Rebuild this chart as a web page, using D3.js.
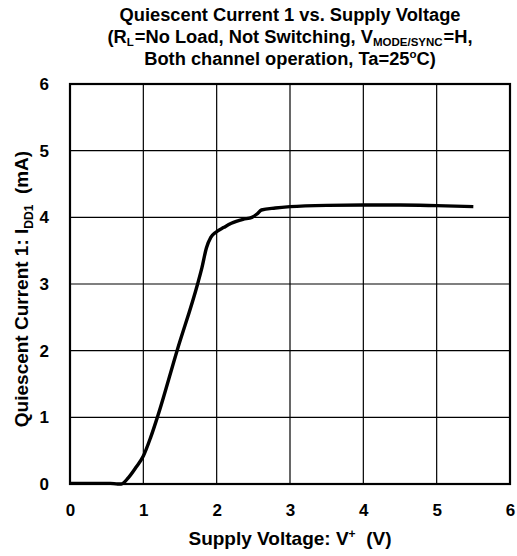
<!DOCTYPE html>
<html><head><meta charset="utf-8">
<script src="https://cdn.jsdelivr.net/npm/d3@7"></script>
<style>body{margin:0;background:#fff}svg{display:block}text{font-family:"Liberation Sans",Arial,sans-serif;font-weight:bold;fill:#000}</style>
</head><body><svg id="c" width="517" height="556"></svg>
<script>
const voltage = [0, 0.3, 0.55, 0.65, 0.7, 0.8, 0.9, 1.0, 1.1, 1.2, 1.46, 1.74, 1.8, 1.86, 1.92, 1.98, 2.1, 2.2, 2.36, 2.48, 2.55, 2.61, 2.8, 3.0, 3.5, 4.0, 4.5, 5.0, 5.5];
const current = [0.01, 0.01, 0.01, 0.0, 0.0, 0.1, 0.25, 0.42, 0.7, 1.03, 2.0, 3.0, 3.25, 3.54, 3.7, 3.77, 3.85, 3.91, 3.97, 4.0, 4.05, 4.11, 4.14, 4.16, 4.18, 4.185, 4.185, 4.175, 4.16];
const xTicks = [0, 1, 2, 3, 4, 5, 6];
const yTicks = [0, 1, 2, 3, 4, 5, 6];

const svg = d3.select("#c");
const L = 70, R = 510, T = 84, B = 484;
const x = d3.scaleLinear().domain([0, 6]).range([L, R]);
const y = d3.scaleLinear().domain([0, 6]).range([B, T]);

// grid
svg.append("g").selectAll("line").data(xTicks.slice(1, -1)).join("line")
  .attr("x1", d => x(d)).attr("x2", d => x(d)).attr("y1", T).attr("y2", B)
  .attr("stroke", "#000").attr("stroke-width", 1.2);
svg.append("g").selectAll("line").data(yTicks.slice(1, -1)).join("line")
  .attr("y1", d => y(d)).attr("y2", d => y(d)).attr("x1", L).attr("x2", R)
  .attr("stroke", "#000").attr("stroke-width", 1.2);

// frame
svg.append("rect").attr("x", L).attr("y", T).attr("width", R - L).attr("height", B - T)
  .attr("fill", "none").attr("stroke", "#000").attr("stroke-width", 2.2);

// tick labels via d3 axes
const xa = svg.append("g").attr("transform", `translate(0,${B})`)
  .call(d3.axisBottom(x).tickValues(xTicks).tickFormat(d3.format("d")).tickSize(0).tickPadding(20));
xa.select(".domain").remove();
xa.selectAll("text").attr("font-size", 17).attr("font-family", null).style("font-weight", "bold");
const ya = svg.append("g").attr("transform", `translate(${L},0)`)
  .call(d3.axisLeft(y).tickValues(yTicks).tickFormat(d3.format("d")).tickSize(0).tickPadding(21));
ya.select(".domain").remove();
ya.selectAll("text").attr("font-size", 17).attr("font-family", null).style("font-weight", "bold");

// curve
const line = d3.line().x((d, i) => x(voltage[i])).y(d => y(d)).curve(d3.curveMonotoneX);
svg.append("path").datum(current).attr("d", line)
  .attr("fill", "none").attr("stroke", "#000").attr("stroke-width", 3.4).attr("stroke-linejoin", "round");

// title
const tx = 290, TF = 18.3, SF = 11.5;
const t1 = svg.append("text").attr("x", tx).attr("y", 21).attr("text-anchor", "middle").attr("font-size", TF)
  .text("Quiescent Current 1 vs. Supply Voltage");
const t2 = svg.append("text").attr("x", tx).attr("y", 42.5).attr("text-anchor", "middle").attr("font-size", TF);
t2.append("tspan").text("(R");
t2.append("tspan").attr("font-size", SF).attr("dy", 3.5).text("L");
t2.append("tspan").attr("dy", -3.5).attr("dx", 1).text("=No Load, Not Switching, V");
t2.append("tspan").attr("font-size", SF).attr("dy", 3.5).text("MODE/SYNC");
t2.append("tspan").attr("dy", -3.5).attr("dx", 1).text("=H,");
const t3 = svg.append("text").attr("x", tx).attr("y", 65).attr("text-anchor", "middle").attr("font-size", TF);
t3.append("tspan").text("Both channel operation, Ta=25");
t3.append("tspan").attr("font-size", SF).attr("dy", -7).text("o");
t3.append("tspan").attr("dy", 7).text("C)");

// x label
const XF = 19;
const xl = svg.append("text").attr("x", tx).attr("y", 545).attr("text-anchor", "middle").attr("font-size", XF);
xl.append("tspan").text("Supply Voltage: V");
xl.append("tspan").attr("font-size", 12).attr("dy", -7).text("+");
xl.append("tspan").attr("dy", 7).text("\u00a0\u00a0(V)");

// y label
const yl = svg.append("text").attr("transform", `translate(28,${(T + B) / 2 + 5}) rotate(-90)`)
  .attr("text-anchor", "middle").attr("font-size", XF);
yl.append("tspan").text("Quiescent Current 1: I");
yl.append("tspan").attr("font-size", 12).attr("dy", 5).text("DD1");
yl.append("tspan").attr("dy", -5).text("\u00a0\u00a0(mA)");
</script></body></html>
